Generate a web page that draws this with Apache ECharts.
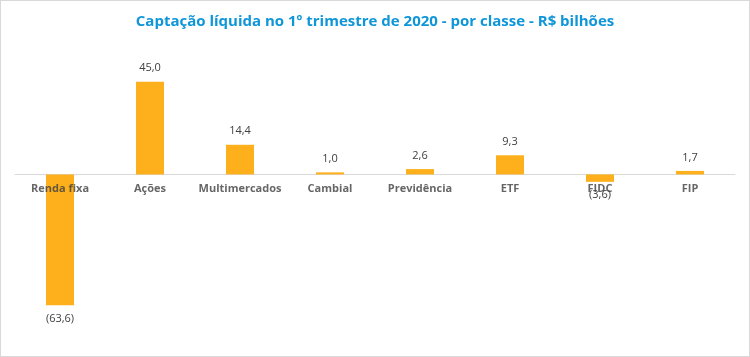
<!DOCTYPE html>
<html><head><meta charset="utf-8">
<script src="https://cdn.jsdelivr.net/npm/echarts@6/dist/echarts.min.js"></script>
<style>html,body{margin:0;padding:0;background:#fff}#c{width:750px;height:357px;box-sizing:border-box;border:1px solid #d9d9d9}</style>
</head><body><div id="c"></div>
<script>
const titleText = 'Captação líquida no 1º trimestre de 2020 - por classe - R$ bilhões';
const categories = ['Renda fixa','Ações','Multimercados','Cambial','Previdência','ETF','FIDC','FIP'];
const values = [-63.6, 45.0, 14.4, 1.0, 2.6, 9.3, -3.6, 1.7];

const fmt = v => {
  const s = Math.abs(v).toFixed(1).replace('.', ',');
  return v < 0 ? '(' + s + ')' : s;
};
const chart = echarts.init(document.getElementById('c'), null, {renderer:'canvas'});
chart.setOption({
  animation:false,
  title:{text:titleText,left:'center',top:8,textStyle:{fontFamily:'Open Sans',fontWeight:'bold',fontSize:15,color:'#0E96D8'}},
  grid:{left:14,right:14,top:70.5,bottom:37.5,containLabel:false},
  xAxis:{type:'category',data:categories,
    axisLine:{onZero:true,lineStyle:{color:'#d9d9d9',width:1}},
    axisTick:{show:false},
    axisLabel:{show:false}},
  yAxis:{type:'value',min:-70,max:50,show:false,splitLine:{show:false}},
  series:[
    {type:'bar',barWidth:28,z:2,
      data:values.map(v=>({value:v,label:{position:v<0?'bottom':'top'}})),
      itemStyle:{color:'#FDB01C'},
      label:{show:true,distance:8,fontFamily:'Open Sans',fontSize:11,color:'#404040',formatter:p=>fmt(p.value)}},
    {type:'scatter',symbolSize:0,z:3,silent:true,
      data:categories.map(c=>[c,0]),
      label:{show:true,position:'bottom',distance:8.5,fontFamily:'Open Sans',fontWeight:'bold',fontSize:11,color:'#404040',formatter:p=>p.value[0]}}
  ]
});
</script></body></html>
